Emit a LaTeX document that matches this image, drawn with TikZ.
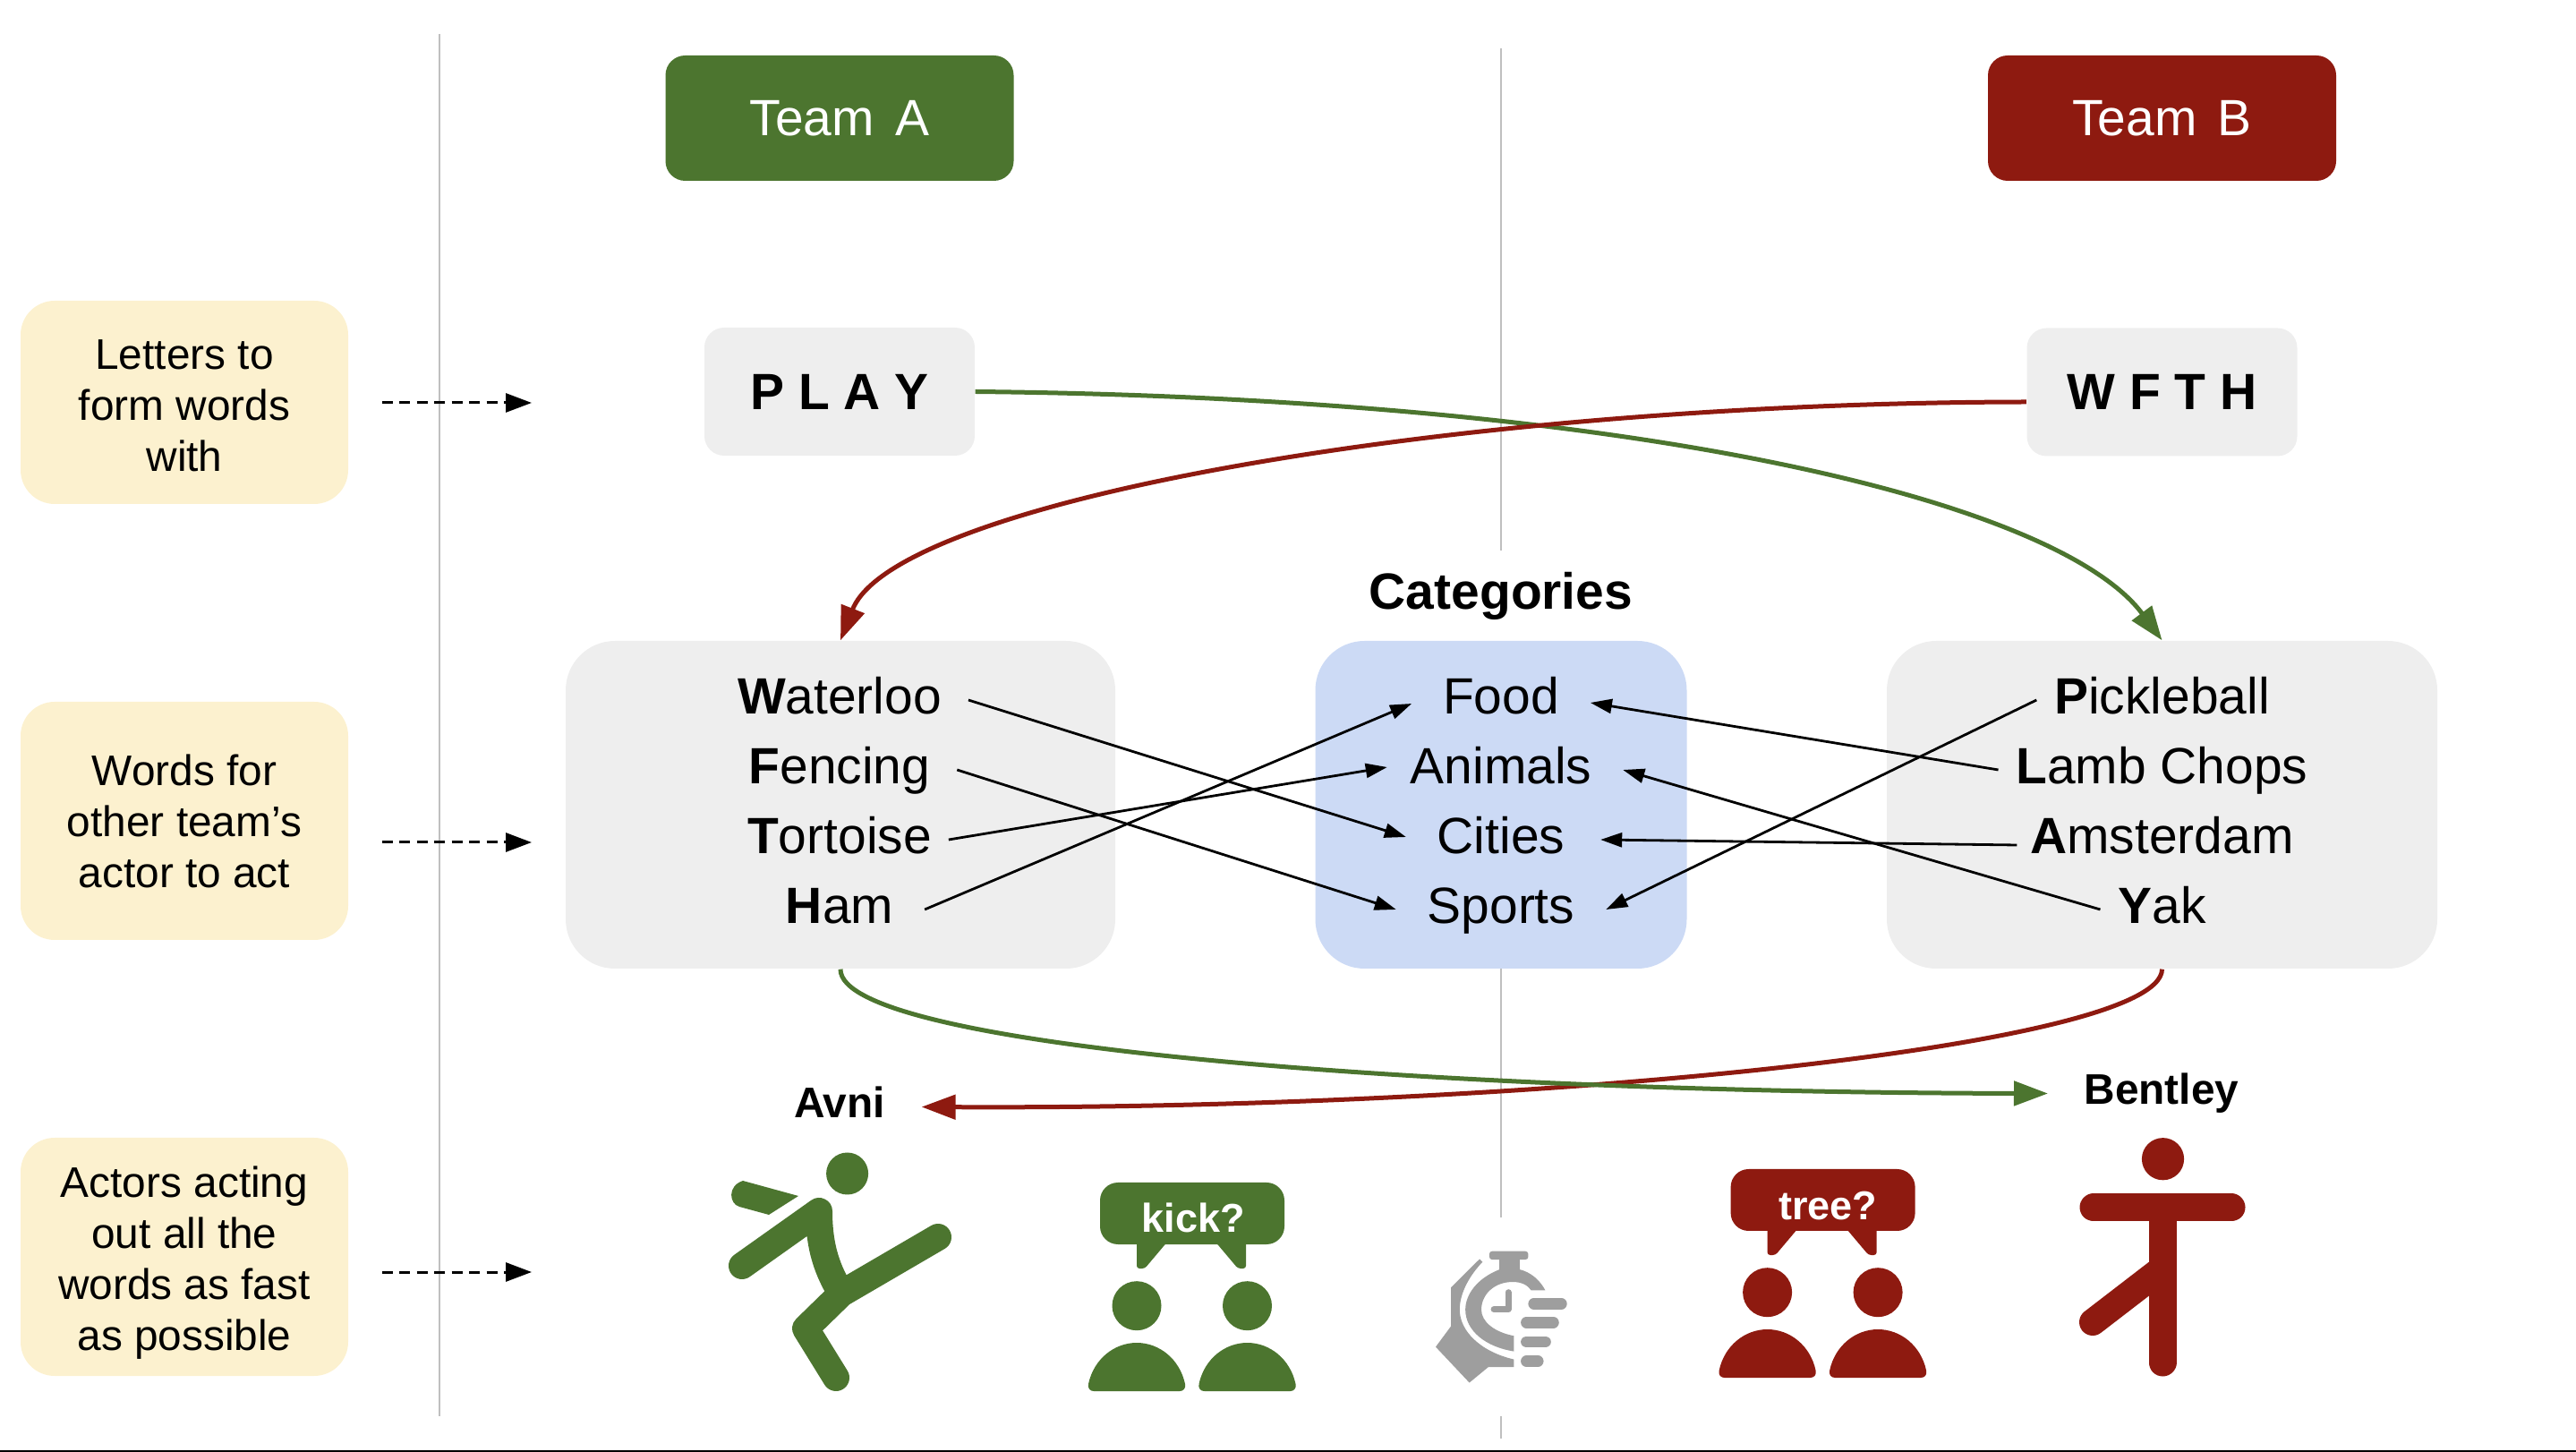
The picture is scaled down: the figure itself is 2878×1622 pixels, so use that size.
\documentclass[tikz,border=0pt]{standalone}
\usepackage{fontspec}
\setmainfont{Liberation Sans}
\usetikzlibrary{arrows.meta,positioning}
\definecolor{teamgreen}{RGB}{76,117,47}
\definecolor{teamred}{RGB}{142,26,16}
\definecolor{panelgray}{RGB}{238,238,238}
\definecolor{catblue}{RGB}{204,218,245}
\definecolor{notecream}{RGB}{252,241,207}
\definecolor{rulegray}{RGB}{191,191,191}
\definecolor{watchgray}{RGB}{158,158,158}
\newcommand{\bigfont}{\fontsize{16.2}{19}\selectfont}
\newcommand{\notefont}{\fontsize{13.6}{16.2}\selectfont}
\newcommand{\talkers}[6]{%
  \begin{scope}[shift={(#1,#2)},color=#3]
    \fill[rounded corners=2mm] (1229,1321) rectangle (1435,1390);
    \fill[rounded corners=.3mm] (1270,1385) -- (1270,1417) -- (1279,1417) -- (1306,1385) -- cycle;
    \fill[rounded corners=.3mm] (1392,1385) -- (1392,1417) -- (1383,1417) -- (1356,1385) -- cycle;
    \node[font=\fontsize{12.8}{15}\bfseries,text=white,inner sep=0pt] (#4) at #6 {#5};
    \foreach \c in {0,123.5}{
      \fill[shift={(\c,0)}] (1270,1458.7) circle (2.75mm);
      \fill[shift={(\c,0)}] (1216,1546) .. controls (1222,1518) and (1245,1500) .. (1270,1500)
        .. controls (1295,1500) and (1318,1518) .. (1324,1546)
        .. controls (1325,1551) and (1322,1554) .. (1318,1554) -- (1222,1554)
        .. controls (1218,1554) and (1215,1551) .. (1216,1546) -- cycle;
    }
  \end{scope}}

\begin{document}
\begin{tikzpicture}[x=.1mm,y=-.1mm,>={Triangle[length=2.4mm,width=1.6mm]},
  team/.style={rounded corners=2.2mm,text=white,font=\bigfont,minimum width=38.9mm,minimum height=14mm},
  tiles/.style={rounded corners=2.2mm,fill=panelgray,font=\bigfont\bfseries,minimum width=30.2mm,minimum height=14.3mm},
  panel/.style={rounded corners=5.5mm,minimum height=36.6mm},
  note/.style={rounded corners=3.8mm,fill=notecream,font=\notefont,align=center,minimum width=36.6mm,inner sep=0pt},
  word/.style={font=\bigfont,text height=13pt,text depth=3.9pt,inner ysep=0pt,minimum height=7.8mm,outer sep=0pt},
  wl/.style={word,inner xsep=3mm},
  wc/.style={word,inner xsep=3.5mm},
  wr/.style={word,inner xsep=2mm},
  actor/.style={font=\notefont\bfseries,anchor=base,inner xsep=4mm,text height=10pt,text depth=2.9pt},
  link/.style={->,line width=.28mm},
  swing/.style={line width=.5mm,-{Triangle[length=3.8mm,width=2.7mm]}},
  guide/.style={rulegray,line width=.25mm},
  hint/.style={line width=.3mm,dash pattern=on 1.2mm off .75mm,shorten <=3.7mm,-{Triangle[length=2.9mm,width=2.1mm]}}]
  \useasboundingbox (0,0) rectangle (2878,1622);
  \fill (0,1620) rectangle (2878,1622);
  \draw[guide] (491,38) -- (491,1582);
  \draw[guide] (1677,54) -- (1677,615) (1677,1082) -- (1677,1360) (1677,1582) -- (1677,1607);

  \node[team,fill=teamgreen,text height=11.5pt] (teama) at (938,132) {Team\hspace{.13em} A};
  \node[team,fill=teamred,text height=11.5pt] (teamb) at (2415.5,132) {Team\hspace{.13em} B};
  \node[tiles] (play) at (938,437.5) {P L A Y};
  \node[tiles] (wfth) at (2415.5,438) {W F T H};

  \node[note,minimum height=22.7mm] (letters) at (206,449.5) {\rule{0pt}{11.5pt}Letters to\\form words\\with};
  \node[note,minimum height=26.6mm] (words) at (206,917) {Words for\\other team’s\\actor to act};
  \node[note,minimum height=26.6mm] (actors) at (206,1404) {\rule{0pt}{13.5pt}Actors acting\\out all the\\words as fast\\as possible};
  \foreach \n/\y in {letters/450,words/941,actors/1421}{
    \coordinate (\n to) at (594,\y);
    \draw[hint] (\n.east |- \n to) -- (\n to);
  }

  \node[panel,fill=panelgray,minimum width=61.4mm] (leftpanel) at (939,899) {};
  \node[panel,fill=catblue,minimum width=41.5mm] (midpanel) at (1677,899) {};
  \node[panel,fill=panelgray,minimum width=61.5mm] (rightpanel) at (2415.5,899) {};
  \node[font=\bigfont\bfseries,anchor=base] (cats) at (1677,681) {Categories};

  \node[wl] (waterloo) at (938,782) {\textbf{W}aterloo};
  \node[wl,below=0pt of waterloo] (fencing) {\textbf{F}encing};
  \node[wl,below=0pt of fencing] (tortoise) {\textbf{T}ortoise};
  \node[wl,below=0pt of tortoise] (ham) {\textbf{H}am};
  \node[wc] (food) at (1677,782) {Food};
  \node[wc,below=0pt of food] (animals) {Animals};
  \node[wc,below=0pt of animals] (cities) {Cities};
  \node[wc,below=0pt of cities] (sports) {Sports};
  \node[wr] (pickle) at (2415.5,782) {\textbf{P}ickleball};
  \node[wr,below=0pt of pickle] (lamb) {\textbf{L}amb Chops};
  \node[wr,below=0pt of lamb] (amsterdam) {\textbf{A}msterdam};
  \node[wr,below=0pt of amsterdam] (yak) {\textbf{Y}ak};

  \draw[link] (waterloo.east) -- ([yshift=.3mm]cities.west);
  \draw[link] (fencing.east) -- (sports.west);
  \draw[link] ([xshift=-1.1mm]tortoise.east) -- ([shift={(.9mm,.3mm)}]animals.west);
  \draw[link] ([xshift=.5mm]ham.east) -- ([yshift=-.4mm]food.west);
  \draw[link] (lamb.west) -- ([yshift=-.3mm]food.east);
  \draw[link] (pickle.west) -- (sports.east);
  \draw[link] ([shift={(.5mm,-.6mm)}]amsterdam.west) -- ([xshift=.5mm]cities.east);
  \draw[link] (yak.west) -- (animals.east);

  \node[actor] (avni) at (938,1249) {Avni};
  \node[actor] (bentley) at (2415,1234) {Bentley};

  \draw[swing,teamgreen] (play.east) .. controls (1830,445) and (2300,560) .. (rightpanel.north);
  \draw[swing,teamred] ([yshift=-1.1mm]wfth.west) .. controls (1620,450) and (1000,560) .. (leftpanel.north);
  \draw[swing,teamred] (rightpanel.south) .. controls (2415,1170) and (1700,1240) .. (avni.east);
  \draw[swing,teamgreen] (leftpanel.south) .. controls (938,1170) and (1600,1220) .. (bentley.west);

  % kicking actor
  \fill[teamgreen] (946.6,1311) circle (2.35mm);
  \fill[teamgreen] (830,1319) -- (892,1336) -- (859,1357) -- (826,1348) .. controls (815,1345) and (812,1325) .. (830,1319) -- cycle;
  \draw[teamgreen,line width=3mm,line cap=round,line join=round]
    (829,1414) -- (915,1353) .. controls (915,1395) and (925,1420) .. (940,1445)
    (1048,1382) -- (940,1445) -- (900,1484) -- (934,1539);
  \talkers{0}{0}{teamgreen}{kickword}{kick?}{(1333,1360)}

  % stopwatch
  \begin{scope}[shift={(1500,1180)},x=.0638mm,y=-.0333mm,color=watchgray]
    \fill[rounded corners=.3mm] (257,654) rectangle (325,682);
    \fill (275,680) rectangle (310,720);
    \fill (240,680) -- (190,775) -- (190,905) -- (163,975) -- (222,1095) -- (255,1043) -- (300,1043) -- (300,1017)
      .. controls (240,990) and (205,920) .. (205,850) .. controls (205,790) and (225,730) .. (245,690) -- cycle;
    \fill (275,715) .. controls (235,745) and (215,800) .. (215,850) .. controls (215,920) and (250,975) .. (300,990)
      -- (300,938) .. controls (265,925) and (243,890) .. (243,850) .. controls (243,800) and (265,757) .. (298,757)
      .. controls (315,757) and (325,770) .. (330,785) -- (355,785) .. controls (345,750) and (330,725) .. (310,715) -- cycle;
    \draw[line width=.7mm,line cap=round,line join=round] (290,792) -- (290,849) -- (265,849);
    \foreach \a/\b/\c in {335/383/830,322/369/893,322/355/958,322/342/1023}
      \draw[line width=1.27mm,line cap=round] (\a,\c) -- (\b,\c);
  \end{scope}

  \talkers{704.6}{-15}{teamred}{treeword}{tree?}{(1337.5,1362)}

  % standing actor
  \fill[teamred] (2416.5,1294.7) circle (2.36mm);
  \draw[teamred,line width=3.1mm,line cap=round] (2339,1349) -- (2493,1349) (2416,1349) -- (2416,1522);
  \draw[teamred,line width=3mm,line cap=round] (2416,1417) -- (2338,1477);
\end{tikzpicture}
\end{document}
